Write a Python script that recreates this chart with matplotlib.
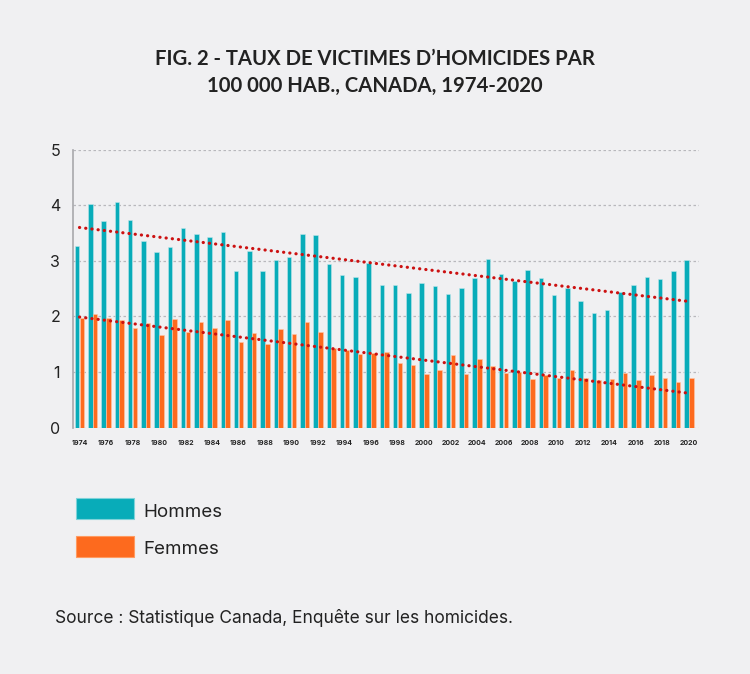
import matplotlib
matplotlib.use("Agg")
import matplotlib.pyplot as plt
import numpy as np
from matplotlib.patches import Rectangle

years = list(range(1974, 2021))
hommes = [3.27, 4.02, 3.71, 4.06, 3.73, 3.35, 3.16, 3.25, 3.59, 3.49,
          3.43, 3.52, 2.81, 3.18, 2.81, 3.02, 3.07, 3.49, 3.47, 2.95,
          2.75, 2.71, 2.96, 2.57, 2.56, 2.43, 2.61, 2.54, 2.41, 2.51,
          2.69, 3.03, 2.76, 2.63, 2.83, 2.70, 2.38, 2.52, 2.27, 2.06,
          2.11, 2.44, 2.57, 2.71, 2.68, 2.82, 3.01]
femmes = [1.97, 2.04, 1.97, 1.94, 1.80, 1.88, 1.67, 1.96, 1.73, 1.90,
          1.79, 1.94, 1.54, 1.70, 1.50, 1.78, 1.69, 1.90, 1.72, 1.43,
          1.39, 1.32, 1.34, 1.36, 1.16, 1.13, 0.96, 1.03, 1.31, 0.97,
          1.24, 1.11, 0.99, 1.00, 0.88, 0.94, 0.90, 1.04, 0.90, 0.85,
          0.87, 0.99, 0.85, 0.94, 0.90, 0.82, 0.89]
# trend lines as drawn in the reference (start 1974, end 2020)
trend_years = [1974, 2020]
trend_hommes = [3.60, 2.27]
trend_femmes = [1.99, 0.62]
yticks = [0, 1, 2, 3, 4, 5]
xtick_years = list(range(1974, 2021, 2))
legend_labels = ["Hommes", "Femmes"]
title = "FIG. 2 - TAUX DE VICTIMES D\u2019HOMICIDES PAR\n100 000 HAB., CANADA, 1974-2020"
source = "Source : Statistique Canada, Enquête sur les homicides."

BG = "#f0f0f2"
TEAL = "#08acb9"
ORANGE = "#fd6a1e"
TREND = "#cc1111"
TXT = "#222222"

plt.rcParams['font.family'] = ['Inter', 'DejaVu Sans']

fig = plt.figure(figsize=(7.5, 6.74), dpi=100, facecolor=BG)
ax = fig.add_axes([0.097, 0.3654, 0.835, 0.4126])
ax.set_facecolor(BG)

x = np.array(years, dtype=float)
w = 0.34
ax.bar(x - w / 2 - 0.01, hommes, width=w, color=TEAL, edgecolor="#bfe6ea", linewidth=0.4, zorder=3)
ax.bar(x + w / 2 + 0.01, femmes, width=w, color=ORANGE, edgecolor="#ffc8a8", linewidth=0.4, zorder=3)

for tv in (trend_hommes, trend_femmes):
    ax.plot(trend_years, tv, linestyle=(0, (0.05, 1.9)), color=TREND, linewidth=2.3,
            zorder=4, dash_capstyle='round', solid_capstyle='round')

ax.set_ylim(0, 5)
ax.set_xlim(1974 - 0.51, 2020 + 0.75)
ax.set_yticks(yticks)
ax.set_yticklabels([str(t) for t in yticks], fontsize=11.5, color=TXT)
ax.set_xticks(xtick_years)
ax.set_xticklabels([str(t) for t in xtick_years], fontsize=5.0, fontweight='bold', color=TXT)
ax.tick_params(axis='both', length=0)
ax.tick_params(axis='x', pad=9)
ax.tick_params(axis='y', pad=9)
ax.grid(axis='y', linestyle=(0, (2, 2)), color="#b8b8bc", linewidth=0.9, zorder=0)
for s in ("top", "right", "bottom"):
    ax.spines[s].set_visible(False)
ax.spines["left"].set_color("#a8a8ac")
ax.spines["left"].set_linewidth(1.2)

fig.text(0.5, 0.893, title, ha='center', va='center', fontsize=14.6, fontweight='bold',
         color=TXT, linespacing=1.45, family=['Lato', 'DejaVu Sans'])

# legend
for i, (lab, col, ec) in enumerate(zip(legend_labels, [TEAL, ORANGE], ["#7fd3da", "#ff9a60"])):
    yc = 674 - (508.5 + i * 37.5)
    fig.patches.append(Rectangle((76 / 750, (yc - 10.5) / 674), 58 / 750, 21 / 674,
                                 transform=fig.transFigure, facecolor=col, edgecolor=ec,
                                 linewidth=0.8))
    fig.text(143 / 750, (yc - 8.5) / 674, lab, ha='left', va='baseline', fontsize=13.5, color=TXT)

fig.text(55 / 750, 1 - 623 / 674, source, ha='left', va='baseline', fontsize=12.5, color=TXT)

fig.savefig("out.png", dpi=100, facecolor=BG)
